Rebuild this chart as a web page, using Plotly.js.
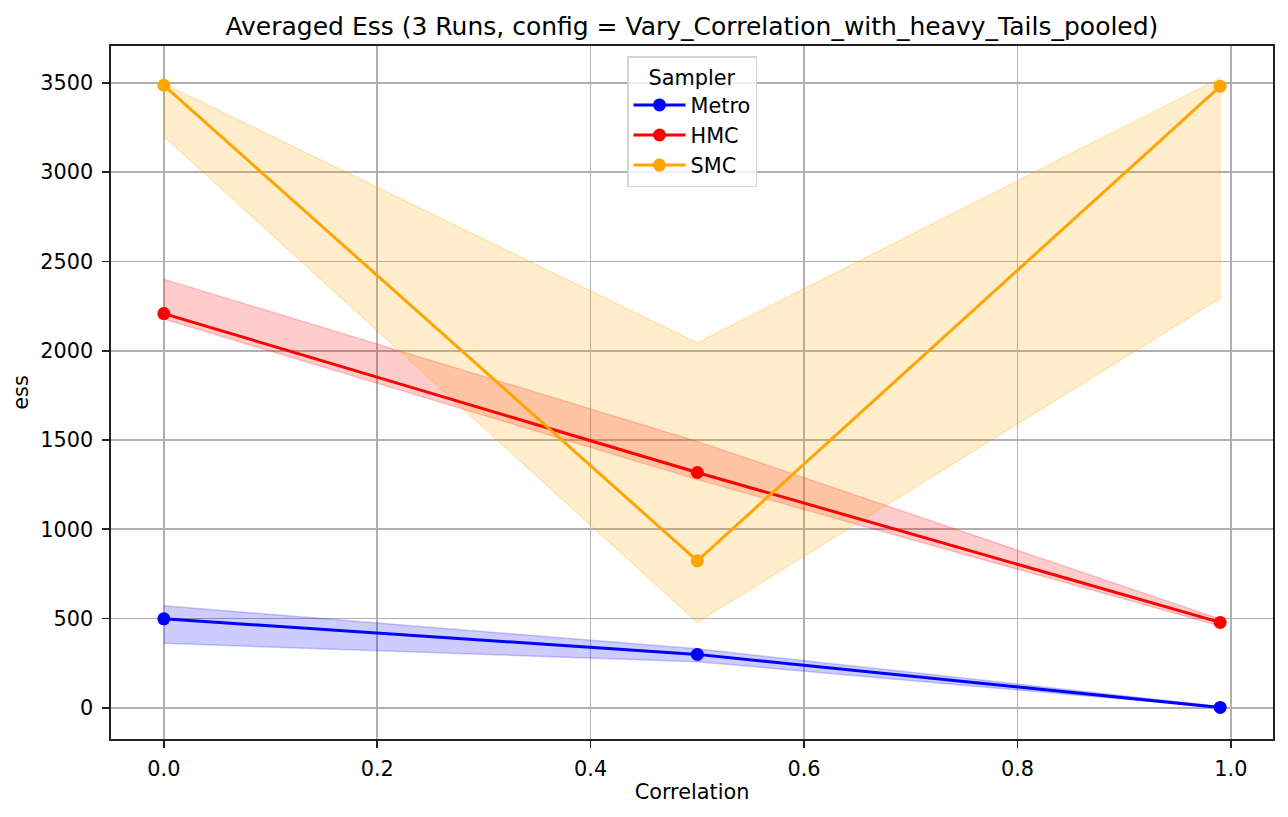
<!DOCTYPE html>
<html>
<head>
<meta charset="utf-8">
<script src="https://cdn.plot.ly/plotly-3.0.1.min.js"></script>
<style>
  body { margin: 0; background: #fff; }
  #chart { width: 1288px; height: 817px; }
</style>
</head>
<body>
<div id="chart"></div>
<script>
var correlation = [0.0, 0.5, 0.99];

var samplers = ['Metro', 'HMC', 'SMC'];
var colors = ['rgb(0,0,255)', 'rgb(255,0,0)', 'rgb(255,165,0)'];
var bandColors = ['rgba(0,0,255,0.2)', 'rgba(255,0,0,0.2)', 'rgba(255,165,0,0.2)'];

var metroEss = [498, 299, 2];
var metroLow = [361, 258, 0];
var metroHigh = [571, 330, 8];

var hmcEss = [2208, 1318, 478];
var hmcLow = [2178, 1278, 458];
var hmcHigh = [2401, 1492, 497];

var smcEss = [3487, 823, 3481];
var smcLow = [3201, 478, 2293];
var smcHigh = [3497, 2044, 3528];

var means = [metroEss, hmcEss, smcEss];
var lows = [metroLow, hmcLow, smcLow];
var highs = [metroHigh, hmcHigh, smcHigh];

var font = 'DejaVu Sans, Liberation Sans, sans-serif';

// shaded band: upper edge forward, lower edge back
function bandTrace(i) {
    var xs = correlation.concat(correlation.slice().reverse());
    var ys = highs[i].concat(lows[i].slice().reverse());
    return {
        x: xs,
        y: ys,
        type: 'scatter',
        mode: 'lines',
        fill: 'toself',
        fillcolor: bandColors[i],
        line: { color: bandColors[i], width: 1.5 },
        showlegend: false,
        hoverinfo: 'skip'
    };
}

function lineTrace(i) {
    return {
        x: correlation,
        y: means[i],
        type: 'scatter',
        mode: 'lines+markers',
        name: samplers[i],
        line: { color: colors[i], width: 3 },
        marker: { color: colors[i], size: 13 }
    };
}

var data = [];
for (var i = 0; i < samplers.length; i++) data.push(bandTrace(i));
for (var j = 0; j < samplers.length; j++) data.push(lineTrace(j));

var axisStyle = {
    showline: true,
    mirror: true,
    linecolor: '#222',
    linewidth: 1.6,
    ticks: 'outside',
    ticklen: 7,
    tickwidth: 1.6,
    tickcolor: '#222',
    showgrid: true,
    gridcolor: '#b0b0b0',
    gridwidth: 1.6,
    zeroline: false,
    tickfont: { family: font, size: 20.8, color: '#000' }
};

var layout = {
    width: 1288,
    height: 817,
    margin: { l: 111, r: 15, t: 46, b: 78 },
    paper_bgcolor: '#fff',
    plot_bgcolor: '#fff',
    font: { family: font, color: '#000' },
    title: {
        text: 'Averaged Ess (3 Runs, config = Vary_Correlation_with_heavy_Tails_pooled)',
        font: { family: font, size: 25, color: '#000' },
        x: 0.5372,
        xanchor: 'center',
        yref: 'container',
        y: 1 - 26 / 817,
        yanchor: 'middle'
    },
    xaxis: Object.assign({}, axisStyle, {
        range: [-0.0495, 1.0395],
        tickvals: [0, 0.2, 0.4, 0.6, 0.8, 1.0],
        ticktext: ['0.0', '0.2', '0.4', '0.6', '0.8', '1.0'],
        ticklabelstandoff: 3,
        title: { text: 'Correlation', font: { family: font, size: 20.8, color: '#000' }, standoff: 5 }
    }),
    yaxis: Object.assign({}, axisStyle, {
        range: [-175, 3707],
        tickvals: [0, 500, 1000, 1500, 2000, 2500, 3000, 3500],
        ticklabelstandoff: 5,
        title: { text: 'ess', font: { family: font, size: 20.8, color: '#000' }, standoff: 6 }
    }),
    legend: {
        x: 0.5,
        xanchor: 'center',
        y: 0.985,
        yanchor: 'top',
        itemwidth: 52,
        bgcolor: 'rgba(255,255,255,0.8)',
        bordercolor: '#d4d4d4',
        borderwidth: 1.5,
        font: { family: font, size: 20.8, color: '#000' },
        title: { text: 'Sampler', side: 'top center', font: { family: font, size: 20.8, color: '#000' } }
    },
    hovermode: false
};

Plotly.newPlot('chart', data, layout, { displayModeBar: false, staticPlot: true });
</script>
</body>
</html>
